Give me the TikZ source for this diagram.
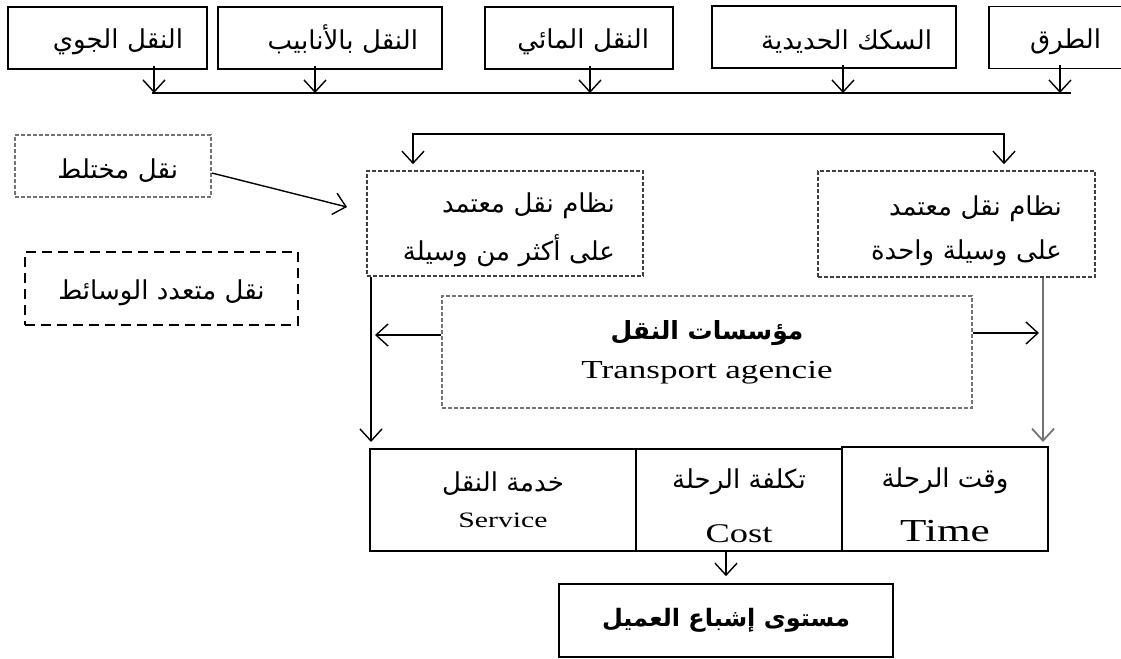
\documentclass[tikz,border=0pt]{standalone}
\usepackage{fontspec}
\setmainfont{Liberation Serif}
\newfontfamily\arabicfont[Script=Arabic]{DejaVu Sans}
\newfontfamily\latinfont[FakeStretch=1.35]{Liberation Serif}
\TeXXeTstate=1
\usepackage{tikz}
\usetikzlibrary{arrows.meta}
\usetikzlibrary{calc}
\usetikzlibrary{positioning}

\newcommand{\artext}[1]{{\arabicfont\beginR #1\endR}}

\begin{document}
\begin{tikzpicture}
	[> = {Straight Barb[length=6pt,width=11pt]},
	x=0.5pt, y=-0.5pt, line width=0.7pt,
	every node/.style = {inner sep=0pt, font=\arabicfont\fontsize{13}{15}\selectfont},
	solid box/.style = {draw, line width=0.8pt},
	right box/.style = {align=right, inner xsep=12pt},
	low text/.style = {text height=#1},
	dash box/.style = {draw=black!75, dash pattern=on 2pt off 1pt, line width=0.8pt},
	grey box/.style = {draw=black!55, dash pattern=on 2pt off 1pt, line width=0.8pt},
	long dash box/.style = {draw, dash pattern=on 5pt off 3pt, line width=0.9pt},
	grey link/.style = {draw=black!55, line width=0.9pt}
	]
	\useasboundingbox (0,0) rectangle (1121,659);
	\clip (0,0) rectangle (1121,659);

	% modes of transport
	\node[solid box, right box, low text=14pt, text width=75.5pt, minimum height=31pt] (air) at (107.5,38) {\artext{النقل الجوي}};
	\node[solid box, right box, low text=14pt, text width=88pt, minimum height=31pt] (pipe) at (330,38) {\artext{النقل بالأنابيب}};
	\node[solid box, right box, low text=14pt, text width=70pt, minimum height=31pt] (water) at (579,38) {\artext{النقل المائي}};
	\node[solid box, right box, low text=14pt, text width=98pt, minimum height=31pt] (rail) at (834,37) {\artext{السكك الحديدية}};
	\node[solid box, right box, low text=14pt, text width=44pt, minimum height=31pt] (road) at (1057,37.5) {\artext{الطرق}};

	\coordinate (bus1) at (154,93);
	\coordinate (bus2) at (315,93);
	\coordinate (bus3) at (590,93);
	\coordinate (bus4) at (843,93);
	\coordinate (bus5) at (1060,93);
	\draw ([xshift=-1pt]bus1) -- ([xshift=5.5pt]bus5);
	\foreach \n/\b in {air/bus1, pipe/bus2, water/bus3, rail/bus4, road/bus5}
		\draw[->] ([yshift=2pt]\n.south -| \b) -- (\b);

	% transport systems
	\node[dash box, right box, low text=16.5pt, inner xsep=14pt, text width=110pt, minimum height=52.5pt] (multi) at (505,223.5) {\artext{نظام نقل معتمد}\\[7pt]\artext{على أكثر من وسيلة}};
	\node[dash box, right box, low text=16.5pt, inner xsep=16.5pt, text width=105.5pt, minimum height=53pt] (single) at (956.5,224) {\artext{نظام نقل معتمد}\\[7pt]\artext{على وسيلة واحدة}};
	\node[grey box, right box, low text=14pt, inner xsep=16.5pt, text width=65pt, minimum height=31pt] (mixed) at (113,166) {\artext{نقل مختلط}};
	\node[long dash box, align=center, low text=14pt, minimum width=136.5pt, minimum height=36.5pt] (intermodal) at (161.5,288.5) {\artext{نقل متعدد الوسائط}};

	\coordinate (loopl) at (413,134);
	\coordinate (loopr) at (1004,134);
	\draw[<->, shorten <=3pt, shorten >=3pt] (multi.north -| loopl) -- (loopl) -- (loopr) -- (single.north -| loopr);
	\coordinate (mixtip) at (347,207);
	\draw[->] ([yshift=-3.5pt]mixed.east) -- (mixtip);

	% agencies
	\node[grey box, align=center, minimum width=265pt, minimum height=56pt] (agency) at (707,352) {{\bfseries\fontsize{12.5}{15}\selectfont\artext{مؤسسات النقل}}\\[4.5pt]{\latinfont\fontsize{13}{15}\selectfont Transport agencie}};

	\coordinate (ltip) at (371,442);
	\coordinate (rtip) at (1043,442);
	\draw[->] (multi.south -| ltip) -- (ltip);
	\draw[grey link, ->] (single.south -| rtip) -- (rtip);
	\coordinate (agl) at ([yshift=8.5pt]agency.west);
	\coordinate (agr) at ([yshift=9.5pt]agency.east);
	\draw[->, shorten >=2pt] (agl) -- (agl -| ltip);
	\draw[->, shorten >=2pt] (agr) -- (agr -| rtip);

	% criteria
	\node[solid box, align=center, minimum width=133pt, minimum height=51pt] (service) at (503,500) {\artext{خدمة النقل}\\[3pt]{\latinfont\fontsize{11}{13}\selectfont Service}};
	\node[solid box, align=center, minimum width=103pt, minimum height=51pt] (cost) at (739,500) {\rule{0pt}{16pt}\artext{تكلفة الرحلة}\\[12pt]{\latinfont\fontsize{13.5}{16}\selectfont Cost}};
	\node[solid box, align=center, minimum width=103pt, minimum height=52pt] (time) at (945,499) {\rule{0pt}{16pt}\artext{وقت الرحلة}\\[12pt]{\latinfont\fontsize{16}{18}\selectfont Time}};

	\node[solid box, align=center, minimum width=167pt, minimum height=36.5pt] (sat) at (726,620.5) {{\bfseries\fontsize{12}{14}\selectfont\artext{مستوى إشباع العميل}}};
	\draw[->, shorten >=3.5pt] (cost.south -| sat.north) -- (sat.north);
\end{tikzpicture}
\end{document}
